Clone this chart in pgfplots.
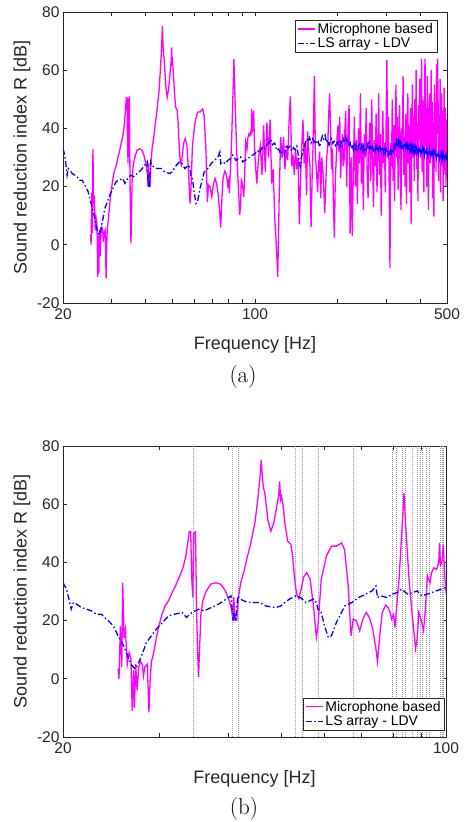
\documentclass[border=0pt]{standalone}
\usepackage{pgfplots}
\pgfplotsset{compat=1.18}
\usepackage{pgfplotstable}
\usepackage{fontspec}
\newfontfamily\axisfont{Liberation Sans}
\definecolor{mag}{rgb}{1,0,1}
\definecolor{ldv}{rgb}{0,0,1}
\definecolor{axgray}{gray}{0.15}

% microphone based sound reduction index
\pgfplotstableread{
f R
25.2 3.5
25.3 0
25.45 18
25.6 4
25.7 33
25.85 14
26.0 17
26.2 5
26.4 9
26.6 7
26.75 -11
26.9 3
27.0 -10
27.15 5
27.3 -4
27.5 4
27.7 6
27.9 5
28.05 1
28.2 4
28.5 5
28.7 -11.5
28.85 0
29.0 6
29.2 8
29.4 11
29.6 14
29.9 18
30.3 22
30.7 25
31.2 27
31.6 29.5
32.1 32
32.6 35
33.1 38
33.5 42
33.8 47
34.0 50.5
34.2 50.5
34.35 35
34.5 28
34.65 50
34.9 50.5
35.05 25
35.2 10
35.35 0.5
35.5 10
35.7 22
36.0 27
36.5 30
37.2 32.5
38.0 33
38.8 32.5
39.5 30.5
40.2 27
40.6 24
40.85 20
41.0 28
41.2 20
41.5 20
41.8 28
42.2 33
42.8 37
43.4 42
43.9 45.6
44.4 50
44.8 53.6
45.4 62.7
45.8 70
46.0 75.2
46.2 70
46.4 66
46.7 63.8
47.3 54.7
47.9 50.7
48.5 53.6
49.1 59.2
49.5 63
49.7 67.8
49.9 61.5
50.1 62.7
50.4 60
50.8 53.6
51.4 47.3
52.1 46.2
52.5 42
52.8 36.5
53.2 31
53.5 28.5
53.9 27.5
54.4 31
55.0 35
55.7 36.5
56.5 34.2
57.3 25
58.0 14.2
58.4 18.2
59.2 34.2
60.5 42.2
61.8 45.6
63.1 45.6
64.5 46.7
65.3 44.4
66.3 31.9
67.1 14.8
67.7 20.5
68.6 20
69.6 16.5
70.5 20.5
71.5 22.8
72.5 21
73.5 17.1
74.5 10.3
75.0 5.9
75.7 14.8
76.5 22.8
77.6 25.3
78.4 24.5
79.1 22.8
79.6 20.5
80.2 22
80.7 17.7
81.3 25
82.1 34.2
82.9 47.9
83.8 63.8
84.5 51.3
85.7 33
86.8 21.7
88.0 10.3
88.6 13.7
89.2 22.8
90.0 20.5
91.0 16.5
91.6 22.8
92.5 35.3
93.5 33
94.1 36.5
95.1 38.2
96.0 37.6
96.4 38.2
97.0 40
97.3 46.7
97.7 39
98.3 40
98.9 46
99.5 35
100 30
101.5 21
103 30
104.5 34
106 24
107.5 41
109 25
110.5 42
112 30
113.5 43
115 21
116.5 26
118 9
119.5 0
121 -11
122.5 17
124 37
125.5 30
127 37
128.5 26
130 33
131.5 29
133 42
134.5 51
136 27
137.5 31
139 24
140.5 33
142 26
143.5 30
145 7
146.5 22
148 34
149.5 43
151 28
152.5 35
154 17
155.5 39
157 32
158.5 27
160 6
161.5 24
163 37
164.5 58
166 30
167.5 25
169 18
170.5 28
172 32
173.5 16
175 30
176.5 26
178 19
179.5 11
181 21
182.5 30
184 34
185.5 45
187 52
188.5 39
190 26
191.5 33
193 14
194.5 2.5
196 22
197.5 29
199 37
200.5 41
202 32
203.5 44
205 23
206.5 31
208 38
209.5 27
211 29
212.5 40
214 46
215.5 20
217 32
218.5 42
220 48
222 3.8
224 30
226 3
228 25
230 44
232 20
234 36
236 14
238 40
240 28
242 52
244 21
246 35
248 12
250 38
252 30
254 47
256 25
258 16
260 34
262 42
264 22
266 50
268 30
270 13
272 36
274 27
276 45
278 18
280 33
282 52
284 24
286 38
288 10
290 31
292 46
294 28
296 35
298 18
300 40
302 63.5
304 30
306 44
308 20
310 -8
312 35
314 27
316 50
318 22
320 41
322 15
324 38
326 55
328 30
330 44
332 19
334 36
336 48
338 25
340 12
342 40
344 33
346 58
348 24
350 37
352 20
354 45
356 14
358 39
360 52
362 28
364 41
366 18
368 47
370 7
372 35
374 55
376 30
378 44
380 22
382 50
384 33
386 60
388 26
390 42
392 15
394 48
396 36
398 57
400 30
402 45
404 64
406 25
408 50
410 38
412 18
414 55
416 64
418 34
420 47
422 20
424 58
426 40
428 12
430 36
432 52
434 28
436 45
438 60
440 31
442 49
444 16
446 42
448 9.7
450 55
452 35
454 48
456 25
458 62
460 38
462 64
464 50
466 22
468 44
470 30
472 57
474 18
476 40
478 52
480 27
482 46
484 15
486 38
488 54
490 33
492 24
494 47
496 20
498 43
500 39
}\micdata

% LS array - LDV
\pgfplotstableread{
f R
20 33
20.3 30.8
20.5 27.4
20.7 23.9
20.9 26.2
21.2 25.6
21.6 24.5
22.1 23.9
22.5 23.4
23.0 22.2
23.5 22.2
23.8 21.1
24.2 19.9
24.7 18.2
25.2 14.8
25.8 11.4
26.3 7.4
26.7 4.6
27.1 3.4
27.5 5.7
27.9 8.5
28.4 12.5
29.0 14.8
29.6 17.1
30.4 19.4
31.2 21.7
32.0 22.2
33.0 22.8
33.6 21.1
34.4 22.8
35.3 23.9
36.2 23.4
37.3 24.5
38.4 25.6
39.3 26.8
40.5 28.5
40.9 20
41.0 22.8
41.3 20
41.7 28.5
42.1 27.4
43.1 26.5
44.0 26.2
45.7 26.2
46.9 25
48.9 24.5
49.9 25
50.8 26.2
51.8 27.4
53.2 28.5
54.3 27.9
55.5 26.2
57.3 27.4
58.0 26.2
58.4 23.9
59.2 22.8
60.0 18.2
61.0 14.2
61.8 14.8
63.1 19.4
64.9 23.9
65.3 25
67.3 26.2
69.2 27.9
71.2 29
73.3 30.2
74.5 31.9
75.0 27.9
76.0 28.5
78.1 27.9
79.6 29
81.3 29.6
82.9 30.8
85.3 29
86.8 29.6
88.6 30.2
90.3 28.5
92.1 29
94.1 29.6
96.0 30.2
97.9 30.8
100 31.4
102 32.5
104 31.6
106 33.4
108 32.6
110 34.3
112 34.8
114 36.2
116 34.4
118 35.0
120 32.4
122 32.9
124 31.2
126 32.1
128 31.0
130 34.4
132 33.2
134 33.8
136 32.2
138 33.4
140 32.6
142 33.9
144 30.4
146 26.8
148 30.5
150 32.9
152 34.4
154 36.3
156 35.4
158 36.8
160 35.0
162 36.4
164 35.2
166 36.0
168 34.6
170 35.4
172 33.6
174 35.9
176 37.4
178 36.3
180 37.6
182 35.2
184 36.0
186 34.3
188 35.6
190 36.4
192 34.8
194 35.6
196 34.2
198 35.3
200 34.5
202 36.1
204 33.9
206 35.2
208 34.0
210 36.3
212 35.1
214 37.0
216 35.6
218 36.2
220 34.1
222 35.0
224 33.2
226 34.4
228 32.6
230 34.3
232 33.0
234 34.1
236 32.2
238 33.6
240 34.6
242 33.0
244 34.2
246 32.5
248 33.8
250 32.1
252 33.5
254 32.8
256 34.6
258 33.4
260 35.0
262 33.1
264 34.2
266 32.6
268 33.5
270 31.8
272 33.2
274 32.3
276 34.0
278 32.5
280 33.4
282 31.9
284 34.3
286 32.7
288 33.6
290 32.2
292 33.0
294 31.4
296 32.6
298 31.5
300 33.0
302 31.8
304 32.4
306 30.9
308 31.9
310 30.8
312 32.3
314 31.6
316 33.2
318 32.4
320 34.0
322 33.1
324 35.0
326 34.1
328 35.8
330 34.6
332 35.9
334 34.2
336 35.3
338 33.9
340 35.2
342 33.7
344 34.6
346 33.2
348 34.8
350 33.6
352 34.5
354 32.9
356 34.2
358 33.0
360 34.4
362 32.7
364 33.8
366 32.4
368 33.9
370 32.6
372 34.0
374 32.3
376 33.5
378 32.1
380 33.6
382 32.0
384 33.2
386 31.7
388 33.1
390 32.2
392 33.4
394 31.6
396 32.8
398 31.5
400 33.0
402 31.7
404 32.6
406 31.2
408 32.9
410 31.6
412 32.7
414 31.0
416 32.5
418 31.3
420 32.8
422 31.1
424 32.4
426 30.8
428 32.2
430 31.0
432 32.5
434 30.6
436 31.9
438 30.9
440 32.2
442 30.7
444 31.8
446 30.4
448 31.7
450 30.9
452 32.0
454 30.3
456 31.6
458 30.1
460 31.5
462 30.0
464 31.4
466 30.2
468 31.6
470 29.9
472 31.2
474 30.1
476 31.3
478 29.8
480 31.1
482 29.7
484 31.0
486 29.9
488 30.8
490 29.6
492 31.1
494 29.5
496 30.7
498 29.8
500 30.5
}\ldvdata

\begin{document}
\begin{tikzpicture}
\path[use as bounding box] (0pt,0pt) rectangle (464pt,822pt);

\begin{axis}[
  at={(63pt,519pt)}, anchor=south west,
  scale only axis, width=384pt, height=291pt,
  xmode=log, xmin=20, xmax=500, ymin=-20, ymax=80,
  xtick={20,100,500}, xticklabels={20,100,500},
  minor xtick={30,40,50,60,70,80,90,200,300,400},
  ytick={-20,0,20,40,60,80},
  axis line style={axgray, line width=0.6pt},
  tick style={axgray, line width=0.6pt},
  major tick length=4pt, minor tick length=4pt,
  /pgf/number format/assume math mode=true,
  tick label style={font=\axisfont\fontsize{15.5}{18}\selectfont, color=axgray},
  xticklabel style={yshift=-2pt},
  label style={font=\axisfont\fontsize{18}{21}\selectfont, color=axgray},
  xlabel={Frequency [Hz]}, ylabel={Sound reduction index R [dB]},
  xlabel style={at={(axis description cs:0.5,-0.144)}, anchor=center},
  ylabel style={at={(axis description cs:-0.107,0.5)}, anchor=center},
  legend cell align=left,
  legend style={font=\axisfont\fontsize{14}{16}\selectfont, draw=axgray,
    inner xsep=2pt, inner ysep=1pt, row sep=-1pt,
    at={(rel axis cs:0.974,0.973)}, anchor=north east},
]
\addplot[color=mag, line width=1.3pt] table[x=f, y=R] {\micdata};
\addplot[color=ldv, line width=1.3pt, dash pattern=on 6pt off 2.5pt on 1.5pt off 2.5pt] table[x=f, y=R] {\ldvdata};
\legend{Microphone based, LS array - LDV}
\end{axis}

\begin{axis}[
  at={(63pt,85pt)}, anchor=south west,
  scale only axis, width=383pt, height=291pt,
  xmode=log, xmin=20, xmax=100, ymin=-20, ymax=80,
  xtick={20,100}, xticklabels={20,100},
  minor xtick={30,40,50,60,70,80,90},
  ytick={-20,0,20,40,60,80},
  axis line style={axgray, line width=0.6pt},
  tick style={axgray, line width=0.6pt},
  major tick length=4pt, minor tick length=4pt,
  /pgf/number format/assume math mode=true,
  tick label style={font=\axisfont\fontsize{15.5}{18}\selectfont, color=axgray},
  xticklabel style={yshift=-2pt},
  label style={font=\axisfont\fontsize{18}{21}\selectfont, color=axgray},
  xlabel={Frequency [Hz]}, ylabel={Sound reduction index R [dB]},
  xlabel style={at={(axis description cs:0.5,-0.144)}, anchor=center},
  ylabel style={at={(axis description cs:-0.107,0.5)}, anchor=center},
  legend cell align=left,
  legend style={font=\axisfont\fontsize{14}{16}\selectfont, draw=axgray,
    inner xsep=2pt, inner ysep=1pt, row sep=-1pt,
    at={(rel axis cs:0.997,0.024)}, anchor=south east},
]
\pgfplotsinvokeforeach{34.5,40.8,41.8,53.0,54.7,58.5,67.6,79.9,81.3,83.1,84.2,86.6,88.5,89.6,90.4,92.1,93.1,97.7,98.3,98.9}{
  \addplot[black!40, line width=0.5pt, dash pattern=on 1pt off 1pt, forget plot] coordinates {(#1,-20) (#1,80)};
}
\addplot[color=mag, line width=1.3pt] table[x=f, y=R] {\micdata};
\addplot[color=ldv, line width=1.3pt, dash pattern=on 6pt off 2.5pt on 1.5pt off 2.5pt] table[x=f, y=R] {\ldvdata};
\legend{Microphone based, LS array - LDV}
\end{axis}

\node[font=\fontsize{23}{27}\selectfont] at (243pt,445pt) {(a)};
\node[font=\fontsize{23}{27}\selectfont] at (244pt,13pt) {(b)};
\end{tikzpicture}
\end{document}
